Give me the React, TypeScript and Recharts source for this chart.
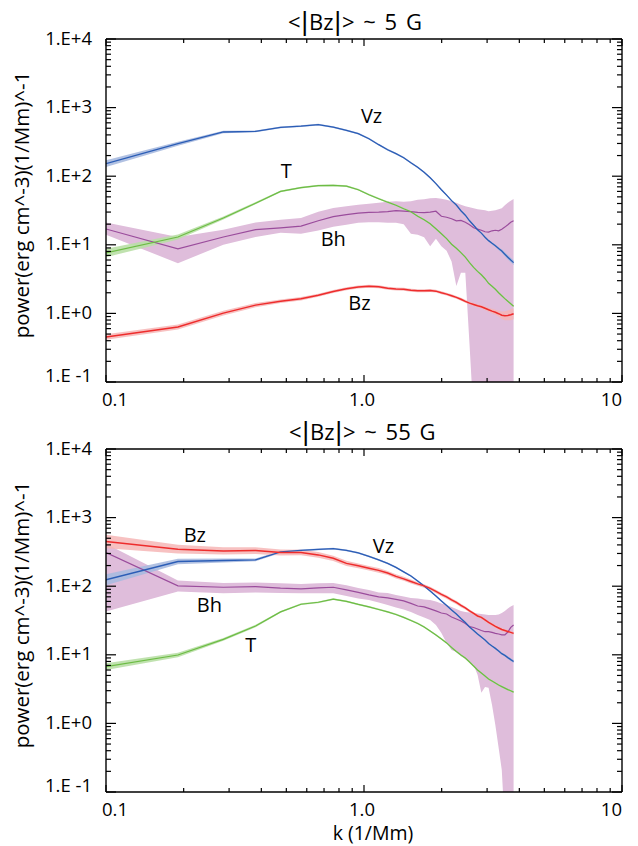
import React from "react";
import { ComposedChart, Line, Area, XAxis, YAxis, ReferenceDot } from "recharts";

const FONT = "'Open Sans', 'Noto Sans', sans-serif";
const BAR_FONT = "'DejaVu Sans', sans-serif";

// wavenumber k (1/Mm)
const kValues = [0.1, 0.19, 0.285, 0.38, 0.475, 0.57, 0.665, 0.76, 0.855, 0.95, 1.045, 1.14, 1.235, 1.33, 1.425, 1.52, 1.615, 1.71, 1.805, 1.9, 1.995, 2.09, 2.185, 2.28, 2.375, 2.47, 2.565, 2.66, 2.755, 2.85, 2.945, 3.04, 3.135, 3.23, 3.325, 3.42, 3.515, 3.61, 3.705, 3.8];

// ---- top panel: <|Bz|> ~ 5 G ----
const topVz = [152, 298, 441, 450, 514, 536, 564, 518, 466, 417, 352, 288, 243, 213, 186, 157, 135, 114, 95, 78, 63.5, 53, 44, 38, 31.4, 27, 22.4, 19.3, 16.6, 14.8, 12.9, 11.5, 10.5, 9.7, 8.8, 8.1, 7.3, 6.6, 6.0, 5.5];
const topT = [7.6, 13, 24.6, 40.4, 60, 68, 73, 73.5, 71.6, 63.5, 53.7, 47, 41.8, 37.8, 33.6, 30.4, 26.1, 23.2, 20.3, 17.1, 14.5, 12.3, 10.2, 8.9, 7.7, 6.6, 5.5, 4.7, 4.1, 3.66, 3.2, 2.75, 2.49, 2.25, 2.0, 1.81, 1.64, 1.5, 1.38, 1.27];
const topBh = [17, 8.7, 13, 16.6, 17.6, 18.7, 22.4, 25.7, 27.5, 28.9, 29.7, 29.9, 30.4, 31.4, 30.9, 30.4, 29.7, 29.4, 29.9, 30.9, 26.1, 25.2, 24, 22.4, 22.7, 21.3, 19.6, 17.7, 16.9, 16.3, 15.5, 15.3, 16, 16.3, 16, 16.9, 18.1, 19.6, 21.3, 22.4];
const topBhHigh = [21.2, 13, 16.6, 21.2, 23.2, 24.6, 30.4, 34.4, 36.6, 38.4, 39.7, 41.1, 42.5, 43.2, 42.5, 43.2, 45.4, 46.2, 47.8, 48.1, 47, 45.4, 43.2, 41.1, 38.4, 36.6, 35.3, 34.2, 33, 32.5, 31.9, 30.9, 31.4, 31.9, 33, 34.2, 37.8, 41.1, 44, 46.6];
const topBhLow = [14, 5.4, 10, 13, 15, 14.5, 16.1, 18.4, 19.6, 21, 21.3, 21.3, 21, 21, 20, 14.5, 14, 12.9, 9.5, 12.3, 9.5, 8.2, 5.7, 2.5, 3.9, 3.9, 0.35, 0.03, 0.03, 0.03, 0.03, 0.03, 0.03, 0.03, 0.03, 0.03, 0.03, 0.03, 0.03, 0.03];
const topBz = [0.453, 0.634, 1.01, 1.32, 1.5, 1.64, 1.84, 2.09, 2.29, 2.43, 2.49, 2.45, 2.33, 2.27, 2.25, 2.18, 2.14, 2.14, 2.16, 2.11, 2.0, 1.91, 1.81, 1.71, 1.61, 1.5, 1.41, 1.35, 1.29, 1.25, 1.19, 1.13, 1.08, 1.04, 0.99, 0.94, 0.925, 0.935, 0.957, 0.99];
// relative half-widths of the thin error bands
const topVzErr = [0.12, 0.07, 0.04, 0.03, 0.03, 0.03, 0.03, 0.03, 0.03, 0.03, 0.03, 0.03, 0.03, 0.03, 0.03, 0.03, 0.03, 0.03, 0.03, 0.03, 0.03, 0.03, 0.03, 0.03, 0.03, 0.03, 0.03, 0.03, 0.03, 0.03, 0.03, 0.03, 0.04, 0.04, 0.05, 0.06, 0.07, 0.08, 0.08, 0.08];
const topTErr = [0.15, 0.09, 0.05, 0.04, 0.03, 0.03, 0.03, 0.03, 0.03, 0.03, 0.03, 0.03, 0.03, 0.03, 0.03, 0.03, 0.03, 0.03, 0.03, 0.03, 0.03, 0.03, 0.03, 0.03, 0.03, 0.03, 0.03, 0.03, 0.03, 0.03, 0.03, 0.03, 0.03, 0.03, 0.03, 0.03, 0.03, 0.03, 0.03, 0.03];
const topBzErr = [0.1, 0.09, 0.08, 0.07, 0.06, 0.06, 0.05, 0.05, 0.05, 0.05, 0.05, 0.05, 0.05, 0.05, 0.05, 0.05, 0.05, 0.05, 0.05, 0.05, 0.05, 0.05, 0.05, 0.05, 0.05, 0.05, 0.05, 0.05, 0.05, 0.05, 0.06, 0.07, 0.08, 0.09, 0.1, 0.13, 0.16, 0.18, 0.2, 0.2];

// ---- bottom panel: <|Bz|> ~ 55 G ----
const botVz = [124, 229, 237, 242, 317, 333, 345, 354, 333, 306, 272, 242, 215, 188, 162, 141, 119, 101, 85, 72, 61, 52.4, 45.1, 39.4, 33.9, 29.6, 25.5, 22.6, 20.1, 18.2, 16.4, 14.6, 13.4, 12.4, 11.4, 10.4, 9.8, 9.1, 8.5, 8.0];
const botT = [6.7, 9.93, 16.8, 26.3, 42.2, 54.6, 58.3, 64.6, 60, 54.2, 49.9, 45.8, 42.2, 38.7, 35.1, 31.7, 28.6, 25.5, 22.2, 19.5, 17, 14.9, 12.8, 11.2, 9.93, 8.97, 7.85, 6.86, 6.0, 5.42, 4.9, 4.43, 4.14, 3.87, 3.62, 3.44, 3.27, 3.11, 2.99, 2.86];
const botBh = [309, 101, 96.6, 98.6, 93.5, 91.4, 94.4, 96.6, 88.3, 81.1, 74.6, 69.8, 67.5, 64.1, 61, 56.1, 51.5, 49.9, 46.7, 43.6, 40.7, 39.4, 35.6, 33.3, 31.1, 28.6, 25.7, 25, 23.8, 22.6, 21.7, 21.7, 21.2, 20.5, 20.1, 19.5, 19.5, 21.5, 25.1, 27.2];
const botBhHigh = [415, 121, 111, 113, 110, 108, 110, 111, 103, 94.4, 88.3, 81.1, 79.8, 74.6, 71, 67.5, 65.9, 64.1, 63.1, 60, 56.1, 53.3, 49.9, 46.7, 43.6, 42.2, 41.5, 40.7, 40.1, 39.4, 38.7, 38.1, 38.1, 38.1, 38.7, 40.7, 43.6, 47.4, 50.7, 53.3];
const botBhLow = [42.6, 83.4, 79.1, 80.7, 79.8, 79.1, 79.1, 79.1, 72.1, 66.4, 63.1, 58, 53.3, 49, 45.8, 42.2, 38.1, 35, 32.2, 27.2, 20.8, 14.9, 11.7, 11, 9.6, 8.7, 7.9, 7.1, 5.1, 2.8, 3.4, 3.3, 1.85, 0.94, 0.44, 0.21, 0.03, 0.03, 0.03, 0.03];
const botBz = [448, 347, 327, 331, 310, 310, 286, 255, 215, 198, 183, 170, 156, 139, 128, 117, 108, 101, 92.9, 84, 75.9, 69.8, 63.1, 58, 52.4, 48.2, 43.6, 40.1, 36.8, 35.1, 32.2, 29.6, 27.7, 25.9, 24.6, 23.4, 22.6, 21.9, 21.2, 20.5];
const botVzErr = [0.2, 0.1, 0.07, 0.05, 0.04, 0.03, 0.03, 0.03, 0.03, 0.03, 0.03, 0.03, 0.03, 0.03, 0.03, 0.03, 0.03, 0.03, 0.03, 0.03, 0.03, 0.03, 0.03, 0.03, 0.03, 0.03, 0.03, 0.03, 0.03, 0.03, 0.03, 0.03, 0.03, 0.03, 0.04, 0.04, 0.04, 0.05, 0.05, 0.05];
const botTErr = [0.12, 0.08, 0.05, 0.04, 0.03, 0.03, 0.03, 0.03, 0.03, 0.03, 0.03, 0.03, 0.03, 0.03, 0.03, 0.03, 0.03, 0.03, 0.03, 0.03, 0.03, 0.03, 0.03, 0.03, 0.03, 0.03, 0.03, 0.03, 0.03, 0.03, 0.03, 0.03, 0.03, 0.03, 0.03, 0.03, 0.03, 0.03, 0.03, 0.03];
const botBzErr = [0.25, 0.16, 0.13, 0.12, 0.11, 0.1, 0.1, 0.09, 0.09, 0.08, 0.08, 0.08, 0.07, 0.07, 0.07, 0.07, 0.06, 0.06, 0.06, 0.06, 0.06, 0.06, 0.06, 0.06, 0.06, 0.05, 0.05, 0.05, 0.05, 0.05, 0.05, 0.05, 0.05, 0.05, 0.05, 0.05, 0.05, 0.05, 0.05, 0.05];

// ---- axes ----
const xMajor = [0.1, 1, 10];
const xMajorLabels = ["0.1", "1.0", "10"];
const yMajor = [0.1, 1, 10, 100, 1000, 10000];
const yMajorLabels = ["1.E -1", "1.E+0", "1.E+1", "1.E+2", "1.E+3", "1.E+4"];

const minorSteps = [1, 2, 3, 4, 5, 6, 7, 8, 9];
const buildTicks = (majors: number[]) => {
  const out: number[] = [];
  majors.forEach((m, i) => {
    if (i < majors.length - 1) minorSteps.forEach((s) => out.push(m * s));
    else out.push(m);
  });
  return out;
};
const xTicks = buildTicks(xMajor);
const yTicks = buildTicks(yMajor);

const majorIndex = (v: number, majors: number[]) =>
  majors.findIndex((m) => Math.abs(v - m) / m < 1e-6);

const COLORS = {
  vz: "#2b5db6",
  vzBand: "#a9badf",
  t: "#6cbc44",
  tBand: "#b9dfa6",
  bh: "#9a4c9c",
  bhBand: "#dfbddb",
  bz: "#ee2c2c",
  bzBand: "#f6b6b6",
};

const TICK_W = 1.2;

const XBottomTick = (props: any) => {
  const { x, y, payload } = props;
  const idx = majorIndex(payload.value, xMajor);
  const len = idx >= 0 ? 7 : 4;
  let label: any = null;
  if (idx >= 0) {
    const anchor = idx === 0 ? "start" : idx === 2 ? "end" : "middle";
    const tx = idx === 0 ? x - 4 : idx === 2 ? x : x - 2;
    label = (
      <text x={tx} y={y + 23.5} textAnchor={anchor} fontSize={18.5} fontFamily={FONT} fill="#000">
        {xMajorLabels[idx]}
      </text>
    );
  }
  return (
    <g>
      <line x1={x} y1={y} x2={x} y2={y - len} stroke="#000" strokeWidth={TICK_W} />
      {label}
    </g>
  );
};

const XTopTick = (props: any) => {
  const { x, y, payload } = props;
  const idx = majorIndex(payload.value, xMajor);
  const len = idx >= 0 ? 7 : 4;
  return <line x1={x} y1={y} x2={x} y2={y + len} stroke="#000" strokeWidth={TICK_W} />;
};

const YLeftTick = (props: any) => {
  const { x, y, payload } = props;
  const idx = majorIndex(payload.value, yMajor);
  const len = idx >= 0 ? 10 : 5;
  return (
    <g>
      <line x1={x} y1={y} x2={x + len} y2={y} stroke="#000" strokeWidth={TICK_W} />
      {idx >= 0 ? (
        <text x={x - 14} y={idx === 0 ? y : y + 5.5} textAnchor="end" fontSize={18.5} fontFamily={FONT} fill="#000">
          {yMajorLabels[idx]}
        </text>
      ) : null}
    </g>
  );
};

const YRightTick = (props: any) => {
  const { x, y, payload } = props;
  const idx = majorIndex(payload.value, yMajor);
  const len = idx >= 0 ? 10 : 5;
  return <line x1={x} y1={y} x2={x - len} y2={y} stroke="#000" strokeWidth={TICK_W} />;
};

const buildRows = (
  vz: number[], t: number[], bh: number[], bhLow: number[], bhHigh: number[], bz: number[],
  vzErr: number[], tErr: number[], bzErr: number[]
) =>
  kValues.map((k, i) => ({
    k,
    vz: vz[i],
    t: t[i],
    bh: bh[i],
    bz: bz[i],
    vzBand: [vz[i] / (1 + vzErr[i]), vz[i] * (1 + vzErr[i])],
    tBand: [t[i] / (1 + tErr[i]), t[i] * (1 + tErr[i])],
    bzBand: [bz[i] / (1 + bzErr[i]), bz[i] * (1 + bzErr[i])],
    bhBand: [bhLow[i], bhHigh[i]],
  }));

const topRows = buildRows(topVz, topT, topBh, topBhLow, topBhHigh, topBz, topVzErr, topTErr, topBzErr);
const botRows = buildRows(botVz, botT, botBh, botBhLow, botBhHigh, botBz, botVzErr, botTErr, botBzErr);

type Note = { text: string; k: number; v: number };
const topNotes: Note[] = [
  { text: "Vz", k: 1.07, v: 745 },
  { text: "T", k: 0.5, v: 121 },
  { text: "Bh", k: 0.76, v: 12.2 },
  { text: "Bz", k: 0.96, v: 1.42 },
];
const botNotes: Note[] = [
  { text: "Bz", k: 0.221, v: 561 },
  { text: "Vz", k: 1.19, v: 387 },
  { text: "Bh", k: 0.2515, v: 53 },
  { text: "T", k: 0.364, v: 13.9 },
];

const axisLine = { stroke: "#000", strokeWidth: 1.4 };

const Panel = ({ rows, notes, height, margin }: { rows: any[]; notes: Note[]; height: number; margin: any }) => (
  <ComposedChart width={638} height={height} data={rows} margin={margin}>
    <XAxis
      dataKey="k"
      type="number"
      scale="log"
      domain={[0.1, 10]}
      allowDataOverflow
      ticks={xTicks}
      interval={0}
      height={1}
      tickSize={0}
      tickMargin={0}
      tickLine={false}
      axisLine={axisLine}
      tick={XBottomTick}
    />
    <XAxis
      xAxisId="top"
      orientation="top"
      dataKey="k"
      type="number"
      scale="log"
      domain={[0.1, 10]}
      allowDataOverflow
      ticks={xTicks}
      interval={0}
      height={1}
      tickSize={0}
      tickMargin={0}
      tickLine={false}
      axisLine={axisLine}
      tick={XTopTick}
    />
    <YAxis
      type="number"
      scale="log"
      domain={[0.1, 10000]}
      allowDataOverflow
      ticks={yTicks}
      interval={0}
      width={1}
      tickSize={0}
      tickMargin={0}
      tickLine={false}
      axisLine={axisLine}
      tick={YLeftTick}
    />
    <YAxis
      yAxisId="right"
      orientation="right"
      type="number"
      scale="log"
      domain={[0.1, 10000]}
      allowDataOverflow
      ticks={yTicks}
      interval={0}
      width={1}
      tickSize={0}
      tickMargin={0}
      tickLine={false}
      axisLine={axisLine}
      tick={YRightTick}
    />
    <Area dataKey="bhBand" type="linear" stroke="none" fill={COLORS.bhBand} fillOpacity={1} isAnimationActive={false} dot={false} activeDot={false} />
    <Area dataKey="vzBand" type="linear" stroke="none" fill={COLORS.vzBand} fillOpacity={0.9} isAnimationActive={false} dot={false} activeDot={false} />
    <Area dataKey="tBand" type="linear" stroke="none" fill={COLORS.tBand} fillOpacity={0.9} isAnimationActive={false} dot={false} activeDot={false} />
    <Area dataKey="bzBand" type="linear" stroke="none" fill={COLORS.bzBand} fillOpacity={0.85} isAnimationActive={false} dot={false} activeDot={false} />
    <Line dataKey="bh" type="linear" stroke={COLORS.bh} strokeWidth={1.2} dot={false} activeDot={false} isAnimationActive={false} />
    <Line dataKey="t" type="linear" stroke={COLORS.t} strokeWidth={1.2} dot={false} activeDot={false} isAnimationActive={false} />
    <Line dataKey="vz" type="linear" stroke={COLORS.vz} strokeWidth={1.3} dot={false} activeDot={false} isAnimationActive={false} />
    <Line dataKey="bz" type="linear" stroke={COLORS.bz} strokeWidth={1.5} dot={false} activeDot={false} isAnimationActive={false} />
    <Line xAxisId="top" yAxisId="right" dataKey="vz" stroke="none" dot={false} activeDot={false} isAnimationActive={false} legendType="none" />
    {notes.map((n) => (
      <ReferenceDot
        key={n.text}
        x={n.k}
        y={n.v}
        r={0}
        fill="none"
        stroke="none"
        label={{ value: n.text, position: "center", fontSize: 20, fill: "#000", fontFamily: FONT }}
      />
    ))}
  </ComposedChart>
);

const TITLE_TOP_TAIL = "> ~ 5 G";
const TITLE_BOTTOM_TAIL = "> ~ 55 G";
const Y_LABEL = "power(erg cm^-3)(1/Mm)^-1";
const X_LABEL = "k (1/Mm)";

const Title = ({ x, y, tail }: { x: number; y: number; tail: string }) => (
  <text x={x} y={y} fontSize={22} fontFamily={FONT} fill="#000">
    {"<"}
    <tspan fontFamily={BAR_FONT} fontSize={25}>|</tspan>
    {"Bz"}
    <tspan fontFamily={BAR_FONT} fontSize={25}>|</tspan>
    <tspan wordSpacing={3}>{tail}</tspan>
  </text>
);

export default function App() {
  return (
    <div style={{ position: "absolute", left: 0, top: 0, width: 638, height: 846, background: "#fff", fontFamily: FONT }}>
      <div style={{ position: "absolute", left: 0, top: 0 }}>
        <Panel rows={topRows} notes={topNotes} height={420} margin={{ top: 38, right: 15, bottom: 37, left: 105 }} />
      </div>
      <div style={{ position: "absolute", left: 0, top: 420 }}>
        <Panel rows={botRows} notes={botNotes} height={426} margin={{ top: 28, right: 15, bottom: 53, left: 105 }} />
      </div>
      <svg width={638} height={846} style={{ position: "absolute", left: 0, top: 0, pointerEvents: "none" }}>
        <Title x={288} y={30} tail={TITLE_TOP_TAIL} />
        <Title x={289} y={440} tail={TITLE_BOTTOM_TAIL} />
        <text x={29} y={205} fontSize={20.5} fontFamily={FONT} fill="#000" textAnchor="middle" transform="rotate(-90 29 205)">{Y_LABEL}</text>
        <text x={29} y={615} fontSize={20.5} fontFamily={FONT} fill="#000" textAnchor="middle" transform="rotate(-90 29 615)">{Y_LABEL}</text>
        <text x={373} y={840} fontSize={19.5} fontFamily={FONT} fill="#000" textAnchor="middle">{X_LABEL}</text>
      </svg>
    </div>
  );
}
